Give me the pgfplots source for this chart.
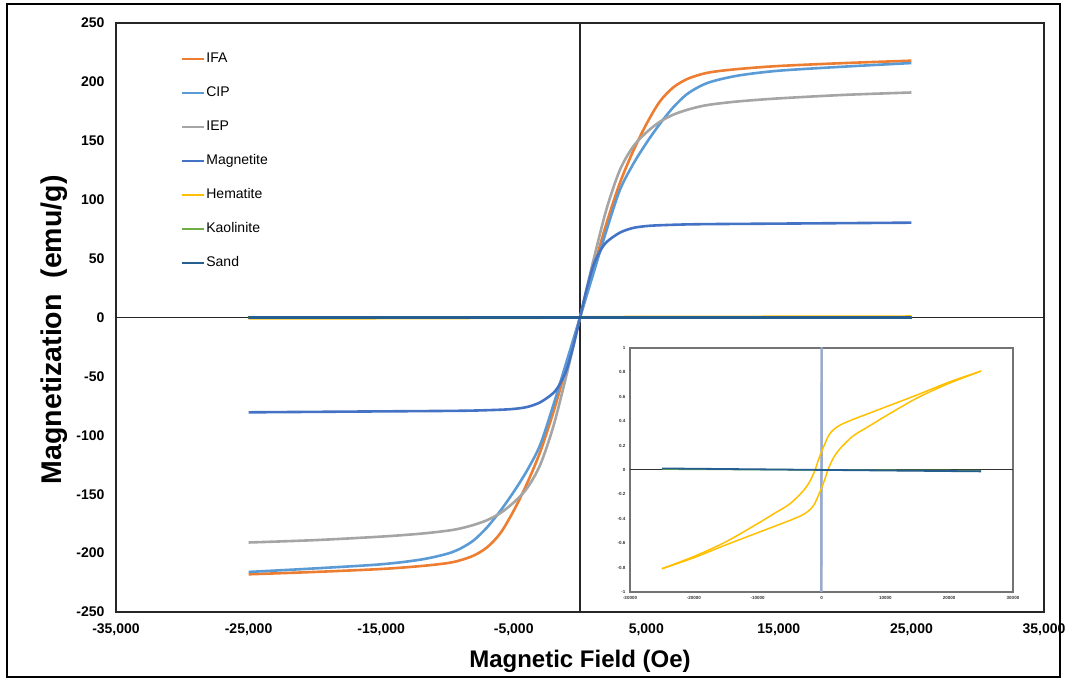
\documentclass[border=0pt]{standalone}
\usepackage{fontspec}
\setmainfont{Liberation Sans}
\usepackage{pgfplots}
\usepackage{pgfplotstable}
\pgfplotsset{compat=1.18}
\definecolor{cIFA}{HTML}{ED7D31}
\definecolor{cCIP}{HTML}{5B9BD5}
\definecolor{cIEP}{HTML}{A5A5A5}
\definecolor{cMag}{HTML}{4472C4}
\definecolor{cHem}{HTML}{FFC000}
\definecolor{cKao}{HTML}{70AD47}
\definecolor{cSand}{HTML}{255E91}

\pgfplotstableread{
x y
-25000 -218
-20000 -216
-15000 -213.5
-12000 -211
-10000 -208.5
-9000 -206
-8000 -202
-7000 -195
-6000 -183
-5000 -164
-4000 -141
-3000 -114
-2000 -80
-1000 -41
0 0
1000 41
2000 80
3000 114
4000 141
5000 164
6000 183
7000 195
8000 202
9000 206
10000 208.5
12000 211
15000 213.5
20000 216
25000 218
}\tIFA

\pgfplotstableread{
x y
-25000 -216
-20000 -213
-15000 -209.5
-12000 -205.5
-10000 -200.5
-9000 -196
-8000 -189
-7000 -178
-6000 -164
-5000 -148
-4000 -130
-3000 -108
-2000 -74
-1000 -37
0 0
1000 37
2000 74
3000 108
4000 130
5000 148
6000 164
7000 178
8000 189
9000 196
10000 200.5
12000 205.5
15000 209.5
20000 213
25000 216
}\tCIP

\pgfplotstableread{
x y
-25000 -191
-20000 -189
-15000 -186
-12000 -183.5
-10000 -181
-9000 -179
-8000 -176
-7000 -172
-6000 -166
-5000 -157
-4000 -145
-3000 -125
-2000 -92
-1000 -48
0 0
1000 48
2000 92
3000 125
4000 145
5000 157
6000 166
7000 172
8000 176
9000 179
10000 181
12000 183.5
15000 186
20000 189
25000 191
}\tIEP

\pgfplotstableread{
x y
-25000 -80.5
-20000 -80.1
-15000 -79.7
-10000 -79.3
-8000 -79
-6000 -78.3
-5000 -77.6
-4000 -76
-3000 -72
-2000 -64
-1500 -56
-1000 -44
-500 -24
0 0
500 24
1000 44
1500 56
2000 64
3000 72
4000 76
5000 77.6
6000 78.3
8000 79
10000 79.3
15000 79.7
20000 80.1
25000 80.5
}\tMag

\pgfplotstableread{
x y
25000 0.81
20000 0.72
15000 0.615
10000 0.515
7500 0.465
5000 0.415
3000 0.37
2000 0.335
1500 0.31
1000 0.27
500 0.21
0 0.15
-500 0.08
-1000 0.00
-1500 -0.06
-2000 -0.11
-3000 -0.18
-5000 -0.28
-7500 -0.36
-10000 -0.44
-15000 -0.59
-20000 -0.71
-25000 -0.81
}\tHemU

\pgfplotstableread{
x y
-25000 -0.81
-20000 -0.72
-15000 -0.615
-10000 -0.515
-7500 -0.465
-5000 -0.415
-3000 -0.37
-2000 -0.335
-1500 -0.31
-1000 -0.27
-500 -0.21
0 -0.15
500 -0.08
1000 0.00
1500 0.06
2000 0.11
3000 0.18
5000 0.28
7500 0.36
10000 0.44
15000 0.59
20000 0.71
25000 0.81
}\tHemL

\pgfplotstableread{
x y
-25000 0.006
0 0
25000 -0.006
}\tKao

\pgfplotstableread{
x y
-25000 0.012
-12500 0.006
0 0
12500 -0.006
25000 -0.012
}\tSand

\begin{document}
\begin{tikzpicture}[x=1pt,y=1pt]
\useasboundingbox (0,0) rectangle (1066,679);
\draw[line width=1.5pt] (7,2) rectangle (1060,675);
\begin{axis}[
  at={(116pt,67pt)}, anchor=south west,
  width=928pt, height=589pt, scale only axis,
  xmin=-35000, xmax=35000, ymin=-250, ymax=250,
  xtick={-35000,-25000,-15000,-5000,5000,15000,25000,35000},
  ytick={-250,-200,-150,-100,-50,0,50,100,150,200,250},
  major tick length=0pt,
  axis line style={draw=none},
  scaled ticks=false,
  /pgf/number format/assume math mode=true,
  /pgf/number format/1000 sep={,},
  ticklabel style={font=\bfseries\fontsize{14}{16}\selectfont},
  xticklabel style={yshift=-8pt},
  yticklabel style={xshift=-8pt},
  xlabel={Magnetic Field (Oe)},
  ylabel={Magnetization\ \ (emu/g)},
  xlabel style={at={(axis description cs:0.5,-0.0934)}, anchor=base, font=\bfseries\fontsize{24}{28}\selectfont},
  ylabel style={at={(axis description cs:-0.0582,0.479)}, anchor=base, font=\bfseries\fontsize{28.5}{30}\selectfont},
  legend cell align=left,
  legend style={at={(axis description cs:0.070,0.953)}, anchor=north west, draw=none, fill=none,
    row sep=18pt, column sep=0pt, inner sep=0pt,
    nodes={inner sep=1pt, text height=11pt, text depth=3pt},
    font=\fontsize{14}{16}\selectfont},
  legend image code/.code={\draw[#1, line width=2.2pt] (0pt,0pt) -- (22pt,0pt);},
  every axis plot/.append style={line width=2.6pt},
  clip=false,
]
\draw[black!85, line width=1.4pt] (axis cs:-35000,0) -- (axis cs:35000,0);
\draw[black!85, line width=1.4pt] (axis cs:0,-250) -- (axis cs:0,250);
\pgfplotsinvokeforeach{-35000,-25000,-15000,-5000,5000,15000,25000}{
  \draw[black!85, line width=1.2pt] (axis cs:#1,-1.5) -- (axis cs:#1,1.5);
}
\addplot[cIFA, smooth] table {\tIFA};
\addlegendentry{IFA}
\addplot[cCIP, smooth] table {\tCIP};
\addlegendentry{CIP}
\addplot[cIEP, smooth] table {\tIEP};
\addlegendentry{IEP}
\addplot[cMag, smooth] table {\tMag};
\addlegendentry{Magnetite}
\addplot[cHem] table {\tHemU};
\addlegendentry{Hematite}
\addplot[cKao] table {\tKao};
\addlegendentry{Kaolinite}
\addplot[cSand] table {\tSand};
\addlegendentry{Sand}
\draw[black!85, line width=2.4pt] (rel axis cs:0,0) rectangle (rel axis cs:1,1);
\end{axis}
\begin{axis}[
  at={(630pt,87pt)}, anchor=south west,
  width=383pt, height=244pt, scale only axis,
  xmin=-30000, xmax=30000, ymin=-1, ymax=1,
  xtick={-30000,-20000,-10000,0,10000,20000,30000},
  ytick={-1,-0.8,-0.6,-0.4,-0.2,0,0.2,0.4,0.6,0.8,1},
  extra y ticks={0}, extra y tick labels={},
  extra y tick style={grid=major, major grid style={black!80, line width=1.1pt}},
  major tick length=0pt,
  axis line style={line width=1.5pt, draw=black!55},
  axis background/.style={fill=white},
  scaled ticks=false,
  /pgf/number format/assume math mode=true,
  /pgf/number format/1000 sep={},
  ticklabel style={font=\bfseries\fontsize{4.5}{5}\selectfont, text=black!80},
  xticklabel style={yshift=-1pt},
  yticklabel style={xshift=-1pt},
  every axis plot/.append style={line width=1.5pt},
]
\addplot[cIFA, restrict y to domain=-60:60] table {\tIFA};
\addplot[cCIP, restrict y to domain=-60:60] table {\tCIP};
\addplot[cIEP, restrict y to domain=-60:60] table {\tIEP};
\addplot[cMag!60, line width=2.2pt, restrict y to domain=-60:60] table {\tMag};
\addplot[cHem, smooth] table {\tHemU};
\addplot[cHem, smooth] table {\tHemL};
\addplot[cKao] table {\tKao};
\addplot[cSand, line width=1.8pt] table {\tSand};
\end{axis}
\end{tikzpicture}
\end{document}
